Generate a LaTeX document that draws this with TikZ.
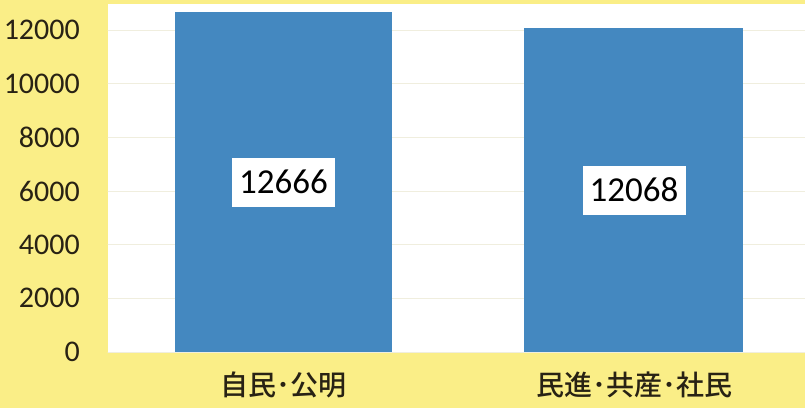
\documentclass[tikz,border=0pt]{standalone}
\usepackage{fontspec}
\setmainfont{Carlito}
\newfontfamily\jpfont{Noto Sans CJK JP Medium}
\usepackage{xcolor}
\definecolor{chartyellow}{RGB}{250,238,135}
\definecolor{barblue}{RGB}{68,136,192}
\definecolor{gridline}{RGB}{240,238,222}
\definecolor{inktext}{RGB}{40,34,20}
\tikzset{
  axislabel/.style={anchor=east,font=\fontsize{30}{30}\selectfont,text=inktext,inner sep=0pt},
  barvalue/.style={fill=white,minimum width=103pt,minimum height=49pt,inner sep=0pt,font=\fontsize{35}{35}\selectfont,text=black},
  catlabel/.style={font=\jpfont\fontsize{28}{28}\selectfont,text=inktext,inner sep=0pt}
}

\begin{document}
\begin{tikzpicture}[line cap=round,line join=round,x=1pt,y=1pt]
\useasboundingbox (0,0) rectangle (805,408);
\fill[chartyellow] (0,0) rectangle (805,408);
\fill[white] (108,56) rectangle (805,404);
\begin{scope}[yshift=56pt,y=0.02683pt]
\foreach \v in {0,2000,...,12000}{
  \draw[gridline,line width=0.8pt] (108,\v) -- (805,\v);
  \node[axislabel] (tick\v) at (80,\v) {\v};
}
\fill[barblue] (175,0) rectangle (392,12666);
\fill[barblue] (524,0) rectangle (743,12068);
\node[barvalue] (valjk) at (283.5,6333) {12666};
\node[barvalue] (valmks) at (634,6034) {12068};
\end{scope}
\node[catlabel] (catjk) at (283.5,23) {自民･公明};
\node[catlabel] (catmks) at (634,23) {民進･共産･社民};
\end{tikzpicture}
\end{document}
